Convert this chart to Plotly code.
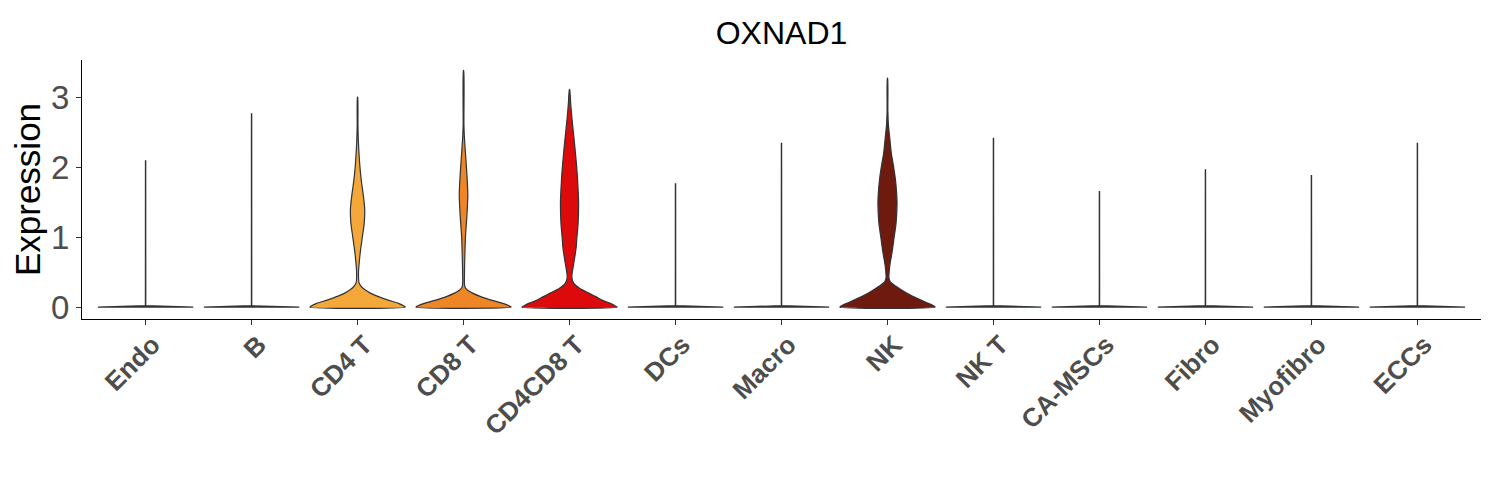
import plotly.graph_objects as go

# =====================================================
# DATA
# =====================================================
cell_types = ["Endo", "B", "CD4 T", "CD8 T", "CD4CD8 T", "DCs", "Macro",
              "NK", "NK T", "CA-MSCs", "Fibro", "Myofibro", "ECCs"]

fill_colors = ["#F8766D", "#E58700", "#F5A83A", "#EE8628", "#DD0A0C", "#6BB100",
               "#00BA38", "#6E1A0E", "#00C0AF", "#00BCD8", "#00B0F6", "#619CFF",
               "#B983FF"]

# max expression per cell type (top of each violin)
max_expr = [2.09, 2.76, 3.00, 3.38, 3.11, 1.76, 2.34, 3.27, 2.41, 1.65, 1.96, 1.88, 2.34]

# density profiles: expression level -> relative half-width (1 = widest)
flat_y = [0.0, 0.02]
flat_w = [1.0, 0.004]

cd4_y = [0.0, 0.02, 0.05, 0.1, 0.15, 0.2, 0.25, 0.3, 0.35, 0.5, 0.6, 0.8, 1.0, 1.2, 1.4, 1.6, 1.8, 2.0, 2.2, 2.4, 2.6]
cd4_w = [1.0, 0.96, 0.87, 0.64, 0.44, 0.27, 0.15, 0.07, 0.03, 0.02, 0.03, 0.06, 0.10, 0.14, 0.15, 0.12, 0.08, 0.05, 0.03, 0.015, 0.008]

cd8_y = [0.0, 0.02, 0.05, 0.1, 0.15, 0.2, 0.25, 0.3, 0.5, 0.8, 1.0, 1.3, 1.6, 1.9, 2.2, 2.4, 2.6]
cd8_w = [1.0, 0.95, 0.84, 0.58, 0.36, 0.19, 0.07, 0.025, 0.02, 0.03, 0.04, 0.07, 0.09, 0.07, 0.04, 0.02, 0.008]

dp_y = [0.0, 0.02, 0.05, 0.1, 0.15, 0.2, 0.27, 0.34, 0.4, 0.45, 0.55, 0.67, 0.86, 1.0, 1.2, 1.5, 1.8, 2.0, 2.3, 2.5, 2.7, 2.9]
dp_w = [1.0, 0.95, 0.87, 0.68, 0.55, 0.40, 0.21, 0.09, 0.055, 0.05, 0.07, 0.10, 0.14, 0.155, 0.18, 0.19, 0.17, 0.15, 0.11, 0.08, 0.05, 0.025]

nk_y = [0.0, 0.02, 0.05, 0.1, 0.15, 0.2, 0.3, 0.36, 0.42, 0.5, 0.6, 0.8, 1.0, 1.2, 1.5, 1.8, 2.0, 2.2, 2.4, 2.6, 2.8]
nk_w = [1.0, 0.96, 0.87, 0.70, 0.54, 0.40, 0.17, 0.06, 0.03, 0.035, 0.05, 0.10, 0.14, 0.18, 0.20, 0.17, 0.13, 0.08, 0.05, 0.02, 0.008]

profiles = {
    "CD4 T": (cd4_y, cd4_w),
    "CD8 T": (cd8_y, cd8_w),
    "CD4CD8 T": (dp_y, dp_w),
    "NK": (nk_y, nk_w),
}

y_ticks = [0, 1, 2, 3]

# =====================================================
# FIGURE
# =====================================================
HALF = 0.45
FONT = "Liberation Sans, Arial, Helvetica, sans-serif"

fig = go.Figure()

for i, ct in enumerate(cell_types):
    shaped = ct in profiles
    ys, ws = profiles.get(ct, (flat_y, flat_w))
    ys = list(ys) + [max_expr[i]]
    ws = list(ws) + [0.003]
    left_x = [i - w * HALF for w in ws]
    right_x = [i + w * HALF for w in ws]
    # outline: up the left side, down the right side, back along the base
    xs = left_x + right_x[::-1] + [left_x[0]]
    yy = ys + ys[::-1] + [ys[0]]
    line = dict(color="#333333", width=1.2)
    if shaped:
        line.update(shape="spline", smoothing=0.7)
    fig.add_trace(go.Scatter(
        x=xs, y=yy,
        mode="lines",
        fill="toself",
        fillcolor=fill_colors[i],
        line=line,
        name=ct,
        hoverinfo="name",
        showlegend=False,
    ))

fig.update_layout(
    width=1500,
    height=500,
    paper_bgcolor="white",
    plot_bgcolor="white",
    margin=dict(l=74, r=27, t=52, b=189),
    title=dict(text="OXNAD1", x=0.5, xref="paper", xanchor="center",
               y=0.95, yref="container", yanchor="middle",
               font=dict(family=FONT, size=32, color="black")),
    xaxis=dict(
        range=[-0.6, len(cell_types) - 0.4],
        tickmode="array",
        tickvals=list(range(len(cell_types))),
        ticktext=cell_types,
        tickangle=-45,
        tickfont=dict(family=FONT, size=26, color="#4D4D4D", weight="bold"),
        ticklabelstandoff=-6,
        ticklabelshift=7,
        ticks="outside", ticklen=5, tickcolor="#333333", tickwidth=1,
        showline=True, linecolor="black", linewidth=1.3,
        showgrid=False, zeroline=False,
    ),
    yaxis=dict(
        range=[-0.17, 3.53],
        tickvals=y_ticks,
        tickfont=dict(family=FONT, size=33, color="#4D4D4D"),
        ticks="outside", ticklen=5, tickcolor="#333333", tickwidth=1,
        showline=True, linecolor="black", linewidth=1.3,
        showgrid=False, zeroline=False,
        title=dict(text="Expression", font=dict(family=FONT, size=35, color="black"),
                   standoff=6),
    ),
)

fig.write_html("out.html")
